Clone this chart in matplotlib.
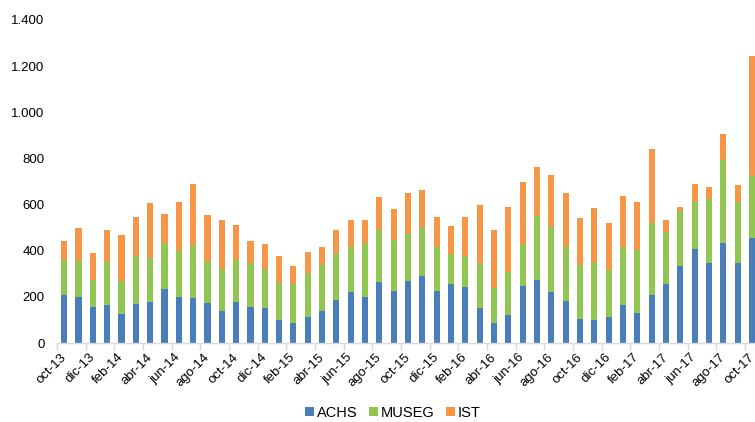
import matplotlib
matplotlib.use("Agg")
import matplotlib.pyplot as plt
import numpy as np
from matplotlib.ticker import FuncFormatter, FixedLocator

plt.rcParams['font.family'] = ['Liberation Sans', 'DejaVu Sans']

meses = ["ene", "feb", "mar", "abr", "may", "jun", "jul", "ago", "sep", "oct", "nov", "dic"]
months = []
y, m = 13, 9
for _ in range(49):
    months.append(f"{meses[m]}-{y:02d}")
    m += 1
    if m == 12:
        m = 0
        y += 1

achs = [206, 200, 154, 163, 127, 169, 179, 232, 200, 196, 175, 140, 179, 154, 153, 101,
        88, 114, 139, 186, 219, 200, 264, 227, 268, 289, 227, 257, 244, 150, 88, 123,
        248, 274, 221, 183, 104, 98, 111, 166, 131, 209, 257, 335, 408, 346, 434, 346, 453]
total_museg = [359, 355, 274, 349, 268, 378, 369, 433, 397, 423, 356, 319, 358, 346, 319, 258,
               254, 303, 338, 388, 417, 434, 488, 447, 473, 501, 414, 384, 377, 343, 237, 307,
               431, 550, 501, 417, 336, 353, 315, 416, 405, 518, 482, 573, 612, 625, 795, 609, 724]
total = [443, 498, 388, 488, 467, 544, 605, 558, 610, 688, 554, 535, 512, 442, 431, 379,
         333, 393, 417, 489, 535, 535, 631, 582, 648, 662, 545, 506, 544, 599, 489, 589,
         697, 763, 729, 648, 540, 587, 521, 636, 612, 843, 531, 589, 691, 675, 906, 684, 1242]

museg = [b - a for a, b in zip(achs, total_museg)]
ist = [c - b for b, c in zip(total_museg, total)]

c_achs = '#4A7EBB'
c_museg = '#92C652'
c_ist = '#F79646'

fig = plt.figure(figsize=(7.55, 4.22), dpi=100)
ax = fig.add_axes([57 / 755, 79 / 422, 702.3 / 755, 323 / 422])

x = np.arange(len(months))
w = 0.42
ax.bar(x, achs, w, color=c_achs, label='ACHS', linewidth=0)
ax.bar(x, museg, w, bottom=achs, color=c_museg, label='MUSEG', linewidth=0)
ax.bar(x, ist, w, bottom=total_museg, color=c_ist, label='IST', linewidth=0)

ax.set_xlim(-0.5, len(months) - 0.5)
ax.set_ylim(0, 1400)
ax.set_yticks(np.arange(0, 1401, 200))
ax.yaxis.set_major_formatter(FuncFormatter(lambda v, p: f"{int(v):,}".replace(",", ".")))

ax.set_xticks(x[::2])
ax.set_xticklabels(months[::2], rotation=45, ha='right', va='center', rotation_mode='anchor')
ax.xaxis.set_minor_locator(FixedLocator(np.arange(-0.5, len(months), 2)))
ax.tick_params(axis='x', which='major', length=0, pad=9, labelsize=9.5)
ax.tick_params(axis='x', which='minor', length=5, width=1, color='#D9D9D9')
ax.tick_params(axis='y', length=0, pad=9, labelsize=9.5)

for s in ['top', 'right', 'left']:
    ax.spines[s].set_visible(False)
ax.spines['bottom'].set_color('#D9D9D9')
ax.spines['bottom'].set_linewidth(1)

fig.legend(loc='center', bbox_to_anchor=(393 / 755, 9 / 422), ncol=3, frameon=False,
           fontsize=10.5, handlelength=0.6, handleheight=0.6, handletextpad=0.2,
           columnspacing=0.8)

fig.savefig('out.png', dpi=100)
